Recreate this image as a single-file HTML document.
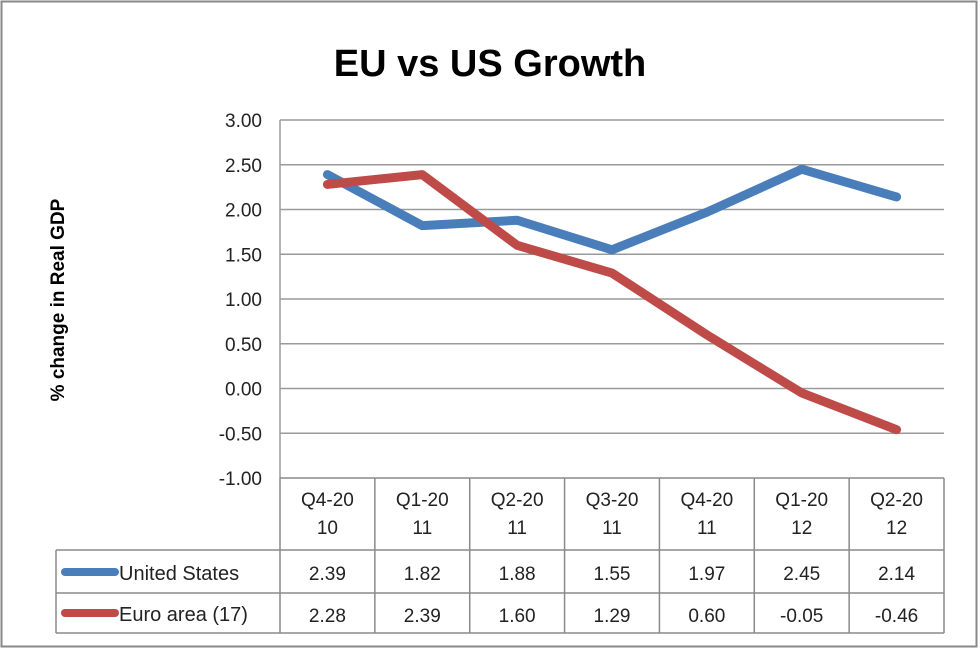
<!DOCTYPE html>
<html><head><meta charset="utf-8"><style>
body{margin:0;background:#fff}
svg{display:block;font-family:"Liberation Sans",sans-serif}
</style></head><body>
<svg width="980" height="649">
<rect x="1.5" y="1.5" width="975" height="645" fill="#fff" stroke="#888" stroke-width="2"/>
<text x="490" y="76" font-size="38" font-weight="bold" text-anchor="middle">EU vs US Growth</text>
<text transform="translate(64,300) rotate(-90)" font-size="19" font-weight="bold" text-anchor="middle">% change in Real GDP</text>
<g id="grid"></g><g id="yt"></g><g id="tbl"></g><g id="lines"></g>
</svg>
<script>
const categories=[["Q4-20","10"],["Q1-20","11"],["Q2-20","11"],["Q3-20","11"],["Q4-20","11"],["Q1-20","12"],["Q2-20","12"]];
const usValues=[2.39,1.82,1.88,1.55,1.97,2.45,2.14];
const euValues=[2.28,2.39,1.60,1.29,0.60,-0.05,-0.46];
const yTicks=[3,2.5,2,1.5,1,0.5,0,-0.5,-1];
const usLabels=["2.39","1.82","1.88","1.55","1.97","2.45","2.14"];
const euLabels=["2.28","2.39","1.60","1.29","0.60","-0.05","-0.46"];
const NS="http://www.w3.org/2000/svg";
const L=280,R=944,T=120,B=478,cw=(R-L)/categories.length;
const y=v=>T+(3-v)/4*(B-T);
const x=i=>L+cw*(i+0.5);
function mk(p,tag,a){const e=document.createElementNS(NS,tag);for(const k in a)e.setAttribute(k,a[k]);document.getElementById(p).appendChild(e);return e;}
yTicks.forEach(v=>{
 if(v>-1){const g=mk('grid','line',{x1:L,x2:R,y1:y(v),y2:y(v),stroke:'#9a9a9a','stroke-width':1.5});
 
 }
 const t=mk('yt','text',{x:262,y:y(v)+7,'font-size':19,'text-anchor':'end',fill:'#222'});t.textContent=v.toFixed(2);
 
 
});
const ax=mk('grid','line',{x1:L,x2:L,y1:T,y2:B,stroke:'#9a9a9a','stroke-width':1.5});


const st={stroke:'#8a8a8a','stroke-width':1.5};
function ln(x1,y1,x2,y2){const e=mk('tbl','line',Object.assign({x1,y1,x2,y2},st));
 
 }
ln(L,478,R,478);ln(56,550,R,550);ln(56,593,R,593);ln(56,633,R,633);ln(56,550,56,633);
for(let i=0;i<=categories.length;i++)ln(L+cw*i,478,L+cw*i,633);
categories.forEach((c,i)=>{
 c.forEach((s,j)=>{const t=mk('tbl','text',{x:x(i),y:506+j*28,'font-size':19,'text-anchor':'middle',fill:'#222'});t.textContent=s;
 
 });
 const a=mk('tbl','text',{x:x(i),y:580,'font-size':19,'text-anchor':'middle',fill:'#222'});a.textContent=usLabels[i];
 
 
 const b=mk('tbl','text',{x:x(i),y:622,'font-size':19,'text-anchor':'middle',fill:'#222'});b.textContent=euLabels[i];
 
 
});
[["United States","#4a7ebb",572],["Euro area (17)","#be4b48",613]].forEach(([n,c,yy])=>{
 const k=mk('tbl','line',{x1:65,x2:115,y1:yy,y2:yy,stroke:c,'stroke-width':8,'stroke-linecap':'round'});
 
 
 const t=mk('tbl','text',{x:119,y:yy+8,'font-size':20,fill:'#222'});t.textContent=n;
 
 
});
[[usValues,'#4a7ebb','us-line'],[euValues,'#be4b48','eu-line']].forEach(([vals,c,n])=>{
 const p=mk('lines','polyline',{points:vals.map((v,i)=>x(i)+','+y(v)).join(' '),fill:'none',stroke:c,'stroke-width':9,'stroke-linecap':'round','stroke-linejoin':'round'});
 
 
});
</script>
</body></html>
